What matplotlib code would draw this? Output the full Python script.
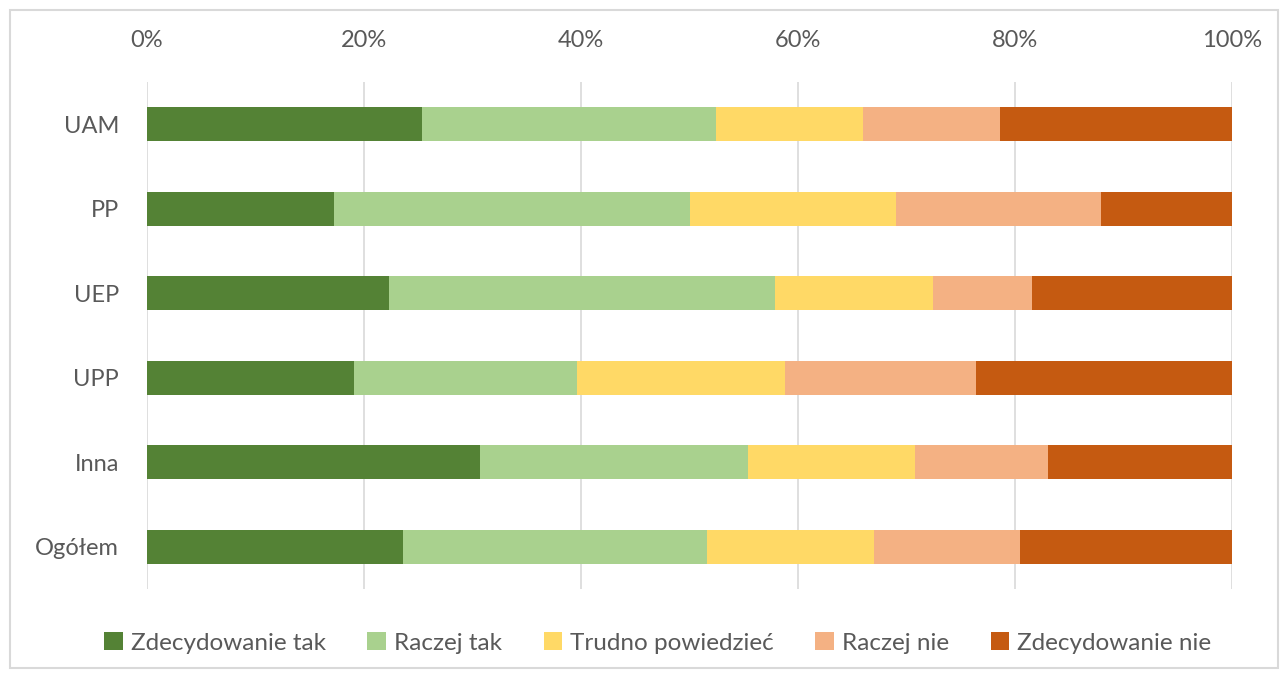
import numpy as np
import matplotlib.pyplot as plt
from matplotlib.patches import Rectangle

# Data (percent shares)
categories = ["UAM", "PP", "UEP", "UPP", "Inna", "Ogółem"]
series_names = ["Zdecydowanie tak", "Raczej tak", "Trudno powiedzieć",
                "Raczej nie", "Zdecydowanie nie"]
zdecydowanie_tak = [25.3, 17.2, 22.3, 19.1, 30.7, 23.6]
raczej_tak = [27.1, 32.8, 35.6, 20.5, 24.7, 28.0]
trudno = [13.6, 19.0, 14.5, 19.2, 15.4, 15.4]
raczej_nie = [12.6, 18.9, 9.2, 17.6, 12.2, 13.5]
zdecydowanie_nie = [21.4, 12.1, 18.4, 23.6, 17.0, 19.5]
colors = ["#548235", "#A9D18E", "#FFD966", "#F4B183", "#C55A11"]

plt.rcParams['font.family'] = ['Lato', 'DejaVu Sans']

fig = plt.figure(figsize=(12.85, 6.75), dpi=100)
ax = fig.add_axes([147 / 1285, 1 - 589 / 675, (1232 - 147) / 1285, (589 - 82) / 675])

# Figure border
fig.patches.append(Rectangle((10 / 1285, 7 / 675), 1268 / 1285, 658 / 675,
                             transform=fig.transFigure, fill=False,
                             edgecolor="#D9D9D9", linewidth=1.5))

y = np.arange(len(categories))
left = np.zeros(len(categories))
all_series = [zdecydowanie_tak, raczej_tak, trudno, raczej_nie, zdecydowanie_nie]
for name, vals, c in zip(series_names, all_series, colors):
    vals = np.array(vals)
    ax.barh(y, vals, left=left, height=0.4, color=c, label=name, zorder=3)
    left += vals

ax.set_xlim(0, 100)
ax.set_ylim(len(categories) - 0.5, -0.5)
ax.set_yticks(y)
ax.set_yticklabels(categories)
ax.set_xticks(np.arange(0, 101, 20))
ax.set_xticklabels([f"{v}%" for v in range(0, 101, 20)])
ax.xaxis.tick_top()
ax.tick_params(axis='both', length=0, labelsize=17, labelcolor="#595959")
ax.tick_params(axis='x', pad=22)
ax.tick_params(axis='y', pad=20)
ax.grid(axis='x', color="#D9D9D9", linewidth=1.2, zorder=0)
for s in ax.spines.values():
    s.set_visible(False)

leg = fig.legend(loc='center', bbox_to_anchor=(0.512, 1 - 643 / 675), ncol=5,
                 frameon=False, fontsize=17.5, handlelength=0.75, handleheight=0.75,
                 handletextpad=0.35, columnspacing=1.7)
for t in leg.get_texts():
    t.set_color("#595959")

fig.savefig("out.png", dpi=100)
